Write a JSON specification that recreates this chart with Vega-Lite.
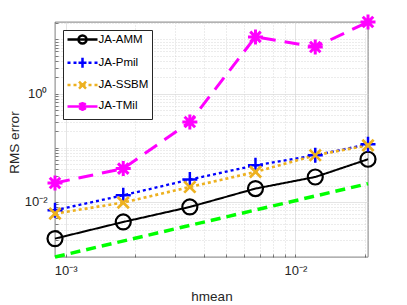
{
  "$schema": "https://vega.github.io/schema/vega-lite/v6.json",
  "width": 313,
  "height": 235,
  "autosize": "none",
  "padding": {"left": 55, "top": 22, "right": 39, "bottom": 48},
  "background": "white",
  "config": {
    "view": {"stroke": "#262626", "strokeWidth": 0.6},
    "font": "Liberation Sans"
  },
  "datasets": {
    "main": [
      {"method": "JA-AMM", "h": 0.000898, "err": 0.00211},
      {"method": "JA-AMM", "h": 0.00178, "err": 0.00428},
      {"method": "JA-AMM", "h": 0.00347, "err": 0.00809},
      {"method": "JA-AMM", "h": 0.0067, "err": 0.01766},
      {"method": "JA-AMM", "h": 0.0122, "err": 0.0289},
      {"method": "JA-AMM", "h": 0.0207, "err": 0.0614},
      {"method": "JA-Pmil", "h": 0.000898, "err": 0.00703},
      {"method": "JA-Pmil", "h": 0.00178, "err": 0.0133},
      {"method": "JA-Pmil", "h": 0.00347, "err": 0.0259},
      {"method": "JA-Pmil", "h": 0.0067, "err": 0.0475},
      {"method": "JA-Pmil", "h": 0.0122, "err": 0.0728},
      {"method": "JA-Pmil", "h": 0.0207, "err": 0.116},
      {"method": "JA-SSBM", "h": 0.000898, "err": 0.0061},
      {"method": "JA-SSBM", "h": 0.00178, "err": 0.00975},
      {"method": "JA-SSBM", "h": 0.00347, "err": 0.0189},
      {"method": "JA-SSBM", "h": 0.0067, "err": 0.0358},
      {"method": "JA-SSBM", "h": 0.0122, "err": 0.0728},
      {"method": "JA-SSBM", "h": 0.0207, "err": 0.111},
      {"method": "JA-TMil", "h": 0.000898, "err": 0.0224},
      {"method": "JA-TMil", "h": 0.00178, "err": 0.0413},
      {"method": "JA-TMil", "h": 0.00347, "err": 0.299},
      {"method": "JA-TMil", "h": 0.0067, "err": 11.1},
      {"method": "JA-TMil", "h": 0.0122, "err": 7.24},
      {"method": "JA-TMil", "h": 0.0207, "err": 20.9}
    ],
    "ref": [
      {"h": 0.000898, "err": 0.000966},
      {"h": 0.0207, "err": 0.0218}
    ]
  },
  "data": {"name": "main"},
  "encoding": {
    "x": {
      "field": "h", "type": "quantitative",
      "scale": {"type": "log", "nice": false, "zero": false},
      "axis": {
        "title": "hmean",
        "values": [0.001, 0.002, 0.003, 0.004, 0.005, 0.006, 0.007, 0.008, 0.009, 0.01, 0.02],
        "labelExpr": "datum.value == 0.001 ? '10⁻³' : (datum.value == 0.01 ? '10⁻²' : '')",
        "grid": true,
        "gridColor": {"condition": {"test": "datum.value == 0.001 || datum.value == 0.01", "value": "#d9d9d9"}, "value": "#c8c8c8"},
        "gridDash": {"condition": {"test": "datum.value == 0.001 || datum.value == 0.01", "value": []}, "value": [1, 2]},
        "gridWidth": 0.7,
        "domain": false,
        "ticks": true,
        "tickSize": -3,
        "tickColor": "#262626",
        "tickWidth": 0.6,
        "labelFont": "Liberation Sans",
        "labelFontSize": 13,
        "labelColor": "#262626",
        "labelBaseline": "top",
        "labelPadding": 10,
        "labelOverlap": false,
        "labelFlush": false,
        "labelBound": false,
        "titleFont": "Liberation Sans",
        "titleFontSize": 13.5,
        "titleFontWeight": "normal",
        "titleColor": "#262626",
        "titleY": 43,
        "titleBaseline": "alphabetic"
      }
    },
    "y": {
      "field": "err", "type": "quantitative",
      "scale": {"type": "log", "nice": false, "zero": false},
      "axis": {
        "title": "RMS error",
        "values": [0.001, 0.002, 0.003, 0.004, 0.005, 0.006, 0.007, 0.008, 0.009, 0.01, 0.02, 0.03, 0.04, 0.05, 0.06, 0.07, 0.08, 0.09, 0.1, 0.2, 0.3, 0.4, 0.5, 0.6, 0.7, 0.8, 0.9, 1, 2, 3, 4, 5, 6, 7, 8, 9, 10, 20],
        "labelExpr": "datum.value == 1 ? '10⁰' : (datum.value == 0.01 ? '10⁻²' : '')",
        "grid": true,
        "gridColor": {"condition": {"test": "datum.value == 1 || datum.value == 0.01", "value": "#d9d9d9"}, "value": "#c8c8c8"},
        "gridDash": {"condition": {"test": "datum.value == 1 || datum.value == 0.01", "value": []}, "value": [1, 2]},
        "gridWidth": 0.7,
        "domain": false,
        "ticks": true,
        "tickSize": -3,
        "tickColor": "#262626",
        "tickWidth": 0.6,
        "labelFont": "Liberation Sans",
        "labelFontSize": 13,
        "labelColor": "#262626",
        "labelBaseline": "middle",
        "labelAlign": "right",
        "labelPadding": 11,
        "labelOverlap": false,
        "labelFlush": false,
        "labelBound": false,
        "titleFont": "Liberation Sans",
        "titleFontSize": 13.5,
        "titleFontWeight": "normal",
        "titleColor": "#262626",
        "titleX": -37,
        "titleY": 120,
        "titleAngle": -90,
        "titleAlign": "center",
        "titleBaseline": "alphabetic"
      }
    }
  },
  "layer": [
    {
      "data": {"name": "ref"},
      "mark": {"type": "line", "color": "#00ff00", "strokeWidth": 3.5, "strokeDash": [10, 6]},
      "encoding": {}
    },
    {
      "mark": {"type": "line"},
      "encoding": {
        "detail": {"field": "method"},
        "color": {"field": "method", "type": "nominal", "legend": null,
          "scale": {"domain": ["JA-AMM", "JA-Pmil", "JA-SSBM", "JA-TMil"], "range": ["#000000", "#0000ff", "#edb120", "#ff00ff"]}},
        "strokeDash": {"field": "method", "type": "nominal", "legend": null,
          "scale": {"domain": ["JA-AMM", "JA-Pmil", "JA-SSBM", "JA-TMil"], "range": [[1, 0], [3, 3], [3, 3], [15, 9]]}},
        "strokeWidth": {"field": "method", "type": "nominal", "legend": null,
          "scale": {"domain": ["JA-AMM", "JA-Pmil", "JA-SSBM", "JA-TMil"], "range": [2, 3, 2.6, 3]}}
      }
    },
    {
      "mark": {"type": "point", "filled": false, "opacity": 1},
      "encoding": {
        "color": {"field": "method", "type": "nominal", "legend": null,
          "scale": {"domain": ["JA-AMM", "JA-Pmil", "JA-SSBM", "JA-TMil"], "range": ["#000000", "#0000ff", "#edb120", "#ff00ff"]}},
        "shape": {"field": "method", "type": "nominal", "legend": null,
          "scale": {"domain": ["JA-AMM", "JA-Pmil", "JA-SSBM", "JA-TMil"], "range": ["circle", "M-1,0H1M0,-1V1", "M-0.75,-0.75L0.75,0.75M-0.75,0.75L0.75,-0.75", "M-1,0H1M0,-1V1M-0.7,-0.7L0.7,0.7M-0.7,0.7L0.7,-0.7"]}},
        "size": {"field": "method", "type": "nominal", "legend": null,
          "scale": {"domain": ["JA-AMM", "JA-Pmil", "JA-SSBM", "JA-TMil"], "range": [225, 225, 196, 256]}},
        "strokeWidth": {"field": "method", "type": "nominal", "legend": null,
          "scale": {"domain": ["JA-AMM", "JA-Pmil", "JA-SSBM", "JA-TMil"], "range": [2.2, 3, 3, 3]}}
      }
    },
    {
      "transform": [{"filter": "false"}],
      "mark": {"type": "point", "filled": false, "opacity": 1, "size": 100, "strokeWidth": 2.5},
      "encoding": {
        "color": {"field": "method", "type": "nominal",
          "scale": {"domain": ["JA-AMM", "JA-Pmil", "JA-SSBM", "JA-TMil"], "range": ["#000000", "#0000ff", "#edb120", "#ff00ff"]},
          "legend": {
            "title": null,
            "orient": "top-left",
            "offset": 8,
            "padding": 3,
            "strokeColor": "#262626",
            "fillColor": "white",
            "cornerRadius": 0,
            "rowPadding": 3.3,
            "symbolSize": 100,
            "symbolStrokeWidth": 2.5,
            "symbolOpacity": 1,
            "labelFont": "Liberation Sans",
            "labelFontSize": 11.5,
            "labelColor": "#000000",
            "labelOffset": 19.5,
            "labelLimit": 200
          }
        },
        "shape": {"field": "method", "type": "nominal",
          "scale": {"domain": ["JA-AMM", "JA-Pmil", "JA-SSBM", "JA-TMil"], "range": [
            "M-1,0H5M2.8,0A0.8,0.8,0,1,1,1.2,0A0.8,0.8,0,1,1,2.8,0",
            "M-1,0H-0.4M0.2,0H0.8M1.2,0H2.8M3.2,0H3.8M4.4,0H5M2,-1V1",
            "M-1,0H-0.4M0.2,0H0.8M1.4,0H2.6M3.2,0H3.8M4.4,0H5M1.3,-0.7L2.7,0.7M1.3,0.7L2.7,-0.7",
            "M-1,0H1.8M2.4,0H5M1.1,0H2.9M2,-0.9V0.9M1.36,-0.64L2.64,0.64M1.36,0.64L2.64,-0.64"
          ]}}
      }
    }
  ],
  "resolve": {"scale": {"color": "independent", "shape": "independent", "strokeDash": "independent", "strokeWidth": "independent", "size": "independent"}}
}
